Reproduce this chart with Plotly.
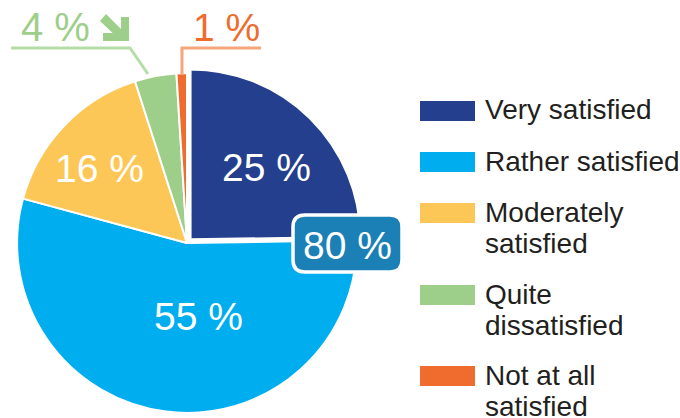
import plotly.graph_objects as go

# ---- data ----
labels = ["Very satisfied", "Rather satisfied", "Moderately satisfied",
          "Quite dissatisfied", "Not at all satisfied"]
legend_lines = [["Very satisfied"], ["Rather satisfied"], ["Moderately", "satisfied"],
                ["Quite", "dissatisfied"], ["Not at all", "satisfied"]]
values = [25, 55, 16, 4, 1]
pct_labels = ["25 %", "55 %", "16 %", "4 %", "1 %"]
total_label = "80 %"
colors = ["#233f8e", "#00adee", "#fdc757", "#9dcf8a", "#ef6c2e"]
pulls = [0.03, 0, 0, 0, 0]

W, H = 680, 418
FONT = "Liberation Sans, Arial, Helvetica, sans-serif"


def fx(x):
    return x / W


def fy(y):
    return 1 - y / H


# pie geometry (pixels)
cx, cy = 187, 243
half = H - cy  # domain half size

fig = go.Figure(go.Pie(
    labels=labels, values=values, sort=False, direction="clockwise", rotation=0,
    marker=dict(colors=colors, line=dict(color="white", width=2)),
    pull=pulls, textinfo="none", hoverinfo="label+value", showlegend=False,
    domain=dict(x=[fx(cx - half), fx(cx + half)], y=[0, fy(cy - half)]),
))

shapes = []
annotations = []

# inside labels
label_pos = [(266, 167), (198, 316), (99, 168)]
for (x, y), t in zip(label_pos, pct_labels[:3]):
    annotations.append(dict(x=fx(x), y=fy(y), xref="paper", yref="paper", text=t,
                            showarrow=False, xanchor="center", yanchor="middle",
                            font=dict(family=FONT, size=39, color="white")))

# outside labels
annotations.append(dict(x=fx(55), y=fy(27), xref="paper", yref="paper", text=pct_labels[3],
                        showarrow=False, xanchor="center", yanchor="middle",
                        font=dict(family=FONT, size=40, color="#9dcf8a")))
annotations.append(dict(x=fx(226), y=fy(27), xref="paper", yref="paper", text=pct_labels[4],
                        showarrow=False, xanchor="center", yanchor="middle",
                        font=dict(family=FONT, size=39, color="#ef6c2e")))


def path(points, close=False):
    s = "M " + " L ".join(f"{fx(x)},{fy(y)}" for x, y in points)
    return s + (" Z" if close else "")


# leader lines
shapes.append(dict(type="path", xref="paper", yref="paper",
                   path=path([(11, 48), (130, 48), (148, 74)]),
                   line=dict(color="#b5dda7", width=3)))
shapes.append(dict(type="path", xref="paper", yref="paper",
                   path=path([(182, 75), (182, 48), (261, 48)]),
                   line=dict(color="#f5a67a", width=3)))

# green arrow
shapes.append(dict(type="path", xref="paper", yref="paper",
                   path=path([(121, 17), (129, 17), (129, 41), (103, 41), (103, 33), (121, 33)], True),
                   fillcolor="#9dcf8a", line=dict(width=0)))
shapes.append(dict(type="path", xref="paper", yref="paper",
                   path=path([(100, 21), (106, 14), (126, 34), (120, 40)], True),
                   fillcolor="#9dcf8a", line=dict(width=0)))

# 80 % badge
bx0, by0, bx1, by1, rr = 293, 215, 402, 272, 12
badge = (f"M {fx(bx0 + rr)},{fy(by0)} L {fx(bx1 - rr)},{fy(by0)} "
         f"Q {fx(bx1)},{fy(by0)} {fx(bx1)},{fy(by0 + rr)} "
         f"L {fx(bx1)},{fy(by1 - rr)} Q {fx(bx1)},{fy(by1)} {fx(bx1 - rr)},{fy(by1)} "
         f"L {fx(bx0 + rr)},{fy(by1)} Q {fx(bx0)},{fy(by1)} {fx(bx0)},{fy(by1 - rr)} "
         f"L {fx(bx0)},{fy(by0 + rr)} Q {fx(bx0)},{fy(by0)} {fx(bx0 + rr)},{fy(by0)} Z")
shapes.append(dict(type="path", xref="paper", yref="paper", path=badge,
                   fillcolor="#1b80b6", line=dict(color="white", width=3.5)))
annotations.append(dict(x=fx(347), y=fy(246), xref="paper", yref="paper", text=total_label,
                        showarrow=False, xanchor="center", yanchor="middle",
                        font=dict(family=FONT, size=39, color="white")))

# legend
row_top = [101, 152, 203, 285, 366]
for top, lines, col in zip(row_top, legend_lines, colors):
    shapes.append(dict(type="rect", xref="paper", yref="paper",
                       x0=fx(420), x1=fx(475), y0=fy(top), y1=fy(top + 20),
                       fillcolor=col, line=dict(width=0)))
    for i, ln in enumerate(lines):
        annotations.append(dict(x=fx(483), y=fy(top + 9 + 31 * i), xref="paper", yref="paper",
                                text=ln, showarrow=False, xanchor="left", yanchor="middle",
                                font=dict(family=FONT, size=28, color="#231f20")))

fig.update_layout(width=W, height=H, margin=dict(l=0, r=0, t=0, b=0),
                  paper_bgcolor="white", plot_bgcolor="white",
                  shapes=shapes, annotations=annotations)

fig.write_html("out.html", config={"displayModeBar": False},
               post_script="document.body.style.margin='0px';"
                           "document.body.style.overflow='hidden';")
